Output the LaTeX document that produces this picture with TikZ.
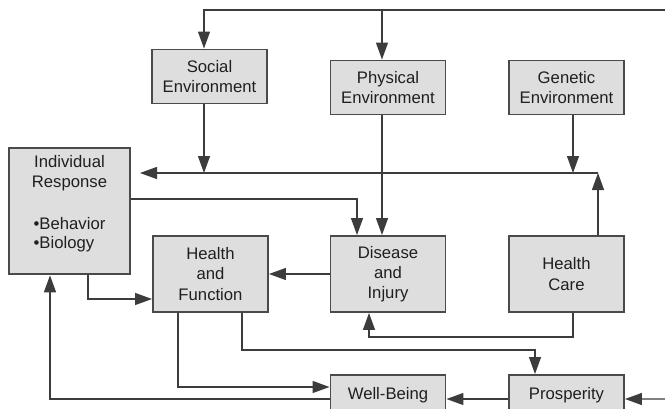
\documentclass[tikz,border=0pt]{standalone}
\usepackage{fontspec}
\setmainfont{Liberation Sans}
\usetikzlibrary{shapes,arrows.meta,positioning,calc}
\usepackage{xcolor}
\definecolor{boxfill}{HTML}{DEDEDE}
\definecolor{boxline}{HTML}{4A4A4A}
\definecolor{wire}{HTML}{3C3C3C}

\begin{document}
\begin{tikzpicture}[
    factor/.style={rectangle, draw=boxline, line width=1.1pt, fill=boxfill, minimum width=2.3cm, minimum height=1.08cm, align=center, text=black!88, font=\fontsize{9.5}{11.5}\selectfont},
    tall/.style={minimum height=1.52cm},
    arrow/.style={-{Triangle[length=0.34cm,width=0.24cm]}, draw=wire, line width=0.75pt}
]
    \clip (0,0) rectangle (13.3,8.16);

    % environments
    \node[factor] (social) at (4.19, 6.63) {Social\\Environment};
    \node[factor] (physical) at (7.76, 6.41) {Physical\\Environment};
    \node[factor] (genetic) at (11.33, 6.41) {Genetic\\Environment};

    % individual response
    \node[factor, minimum height=2.52cm] (indiv) at (1.39, 3.94) {\parbox[c][2.3cm][t]{2.2cm}{\vspace*{1pt}\centering Individual\\Response\\[13pt]\begin{tabular}{@{}l@{}}\textbullet Behavior\\[-1pt]\textbullet Biology\end{tabular}}};

    % middle row
    \node[factor, tall] (health) at (4.21, 2.68) {Health\\and\\Function};
    \node[factor, tall] (disease) at (7.76, 2.68) {Disease\\and\\Injury};
    \node[factor, tall] (care) at (11.33, 2.68) {Health\\Care};

    % bottom row
    \node[factor, minimum height=0.8cm] (wellbeing) at (7.76, 0.26) {Well-Being};
    \node[factor, minimum height=0.8cm] (prosperity) at (11.33, 0.26) {Prosperity};

    % free ends
    \coordinate (top) at (13.3, 7.96);
    \coordinate (busR) at (11.96, 4.70);
    \coordinate (busL) at (2.80, 4.70);
    \coordinate (rightin) at (13.3, 0.18);

    % feedback from the right
    \draw[arrow] (top) -| ([xshift=-0.11cm]social.north);
    \draw[arrow] ([xshift=-0.12cm]physical.north |- top) -- ([xshift=-0.12cm]physical.north);

    % bus to individual response
    \draw[arrow] (busR) -- (busL);
    \draw[arrow] ([xshift=0.63cm]care.north) -- (busR);
    \draw[arrow] ([xshift=-0.11cm]social.south) -- ([xshift=-0.11cm]social.south |- busR);
    \draw[arrow] ([xshift=0.13cm]genetic.south) -- ([xshift=0.13cm]genetic.south |- busR);
    \draw[arrow] ([xshift=-0.12cm]physical.south) -- ([xshift=-0.12cm]disease.north);

    % middle
    \draw[arrow] ([yshift=0.24cm]indiv.east) -| ([xshift=-0.62cm]disease.north);
    \draw[arrow] (disease.west) -- (health.east);
    \draw[arrow] ([xshift=0.37cm]indiv.south) |- ([yshift=-0.5cm]health.west);
    \draw[arrow] ([xshift=0.13cm]care.south) -- ++(0,-0.48) -| ([xshift=-0.38cm]disease.south);

    % lower loops
    \draw[arrow] ([xshift=0.63cm]health.south) -- ++(0,-0.74) -| ([xshift=-0.63cm]prosperity.north);
    \draw[arrow] ([xshift=-0.65cm]health.south) |- ([yshift=0.16cm]wellbeing.west);
    \draw[arrow] ([yshift=-0.08cm]wellbeing.west) -| ([xshift=-0.39cm]indiv.south);
    \draw[arrow] ([yshift=-0.08cm]prosperity.west) -- ([yshift=-0.08cm]wellbeing.east);
    \draw[arrow] (rightin) -- ([yshift=-0.08cm]prosperity.east);
\end{tikzpicture}
\end{document}
